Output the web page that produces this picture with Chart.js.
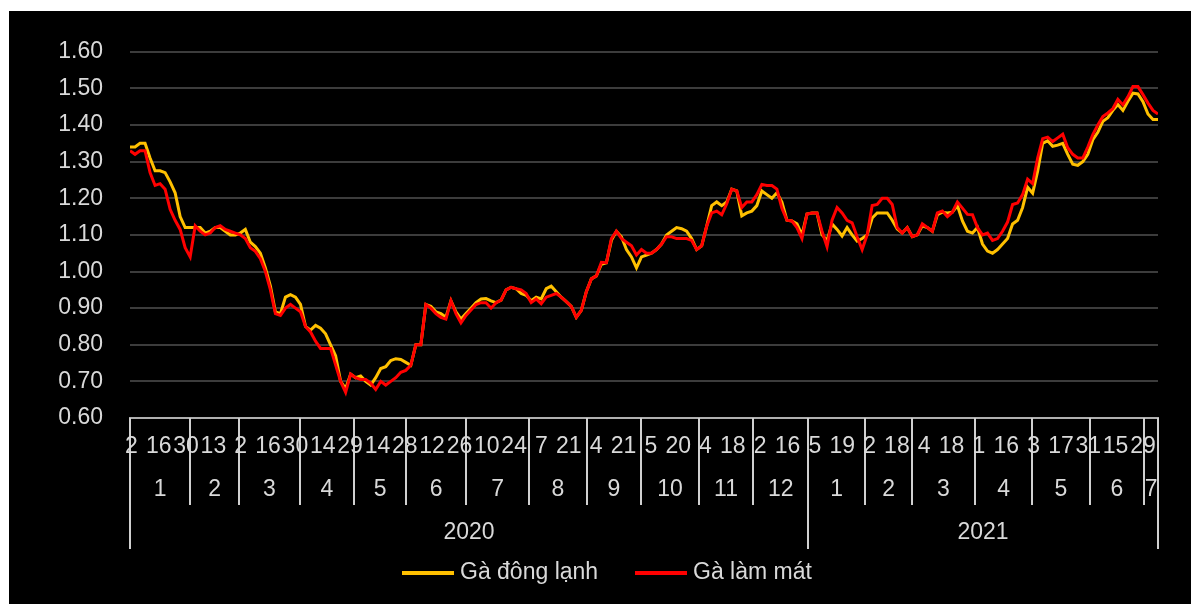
<!DOCTYPE html>
<html>
<head>
<meta charset="utf-8">
<script src="https://cdn.jsdelivr.net/npm/chart.js@4.4.1/dist/chart.umd.min.js"></script>
<style>
  html, body { margin: 0; padding: 0; background: #ffffff; }
  #wrap { position: absolute; left: 9px; top: 11px; width: 1182px; height: 593px; background: #000000; }
</style>
</head>
<body>
<div id="wrap"><canvas id="grafico" width="1182" height="593"></canvas></div>
<script>
// số phiên trong từng tháng (01/2020 -> 07/2021)
const monthNames = ['1','2','3','4','5','6','7','8','9','10','11','12','1','2','3','4','5','6','7'];
const monthObs = [22,18,22,20,19,22,23,21,20,21,20,20,21,17,23,21,21,20,5];
const years = ['2020','2021'];
const yearMonths = [12, 7];

// nhãn ngày, cứ 10 phiên một nhãn
const labelEvery = 10;
const dayLabels = ['2','16','30','13','2','16','30','14','29','14','28','12','26','10','24','7','21','4','21','5','20',
                   '4','18','2','16','5','19','2','18','4','18','1','16','3','17','31','15','29'];

// giá trị lấy mẫu trải đều từ phiên đầu đến phiên cuối
const frozen = [
  1.34,1.34,1.35,1.35,1.31,1.275,1.275,1.27,1.245,1.215,
  1.15,1.12,1.12,1.12,1.12,1.105,1.11,1.12,1.12,1.11,
  1.10,1.10,1.105,1.115,1.08,1.068,1.05,1.01,0.96,0.89,
  0.885,0.93,0.937,0.93,0.91,0.85,0.84,0.853,0.845,0.83,
  0.80,0.77,0.70,0.68,0.72,0.71,0.715,0.70,0.69,0.71,
  0.735,0.74,0.757,0.762,0.76,0.752,0.744,0.80,0.80,0.91,
  0.905,0.89,0.885,0.875,0.92,0.89,0.87,0.885,0.90,0.915,
  0.925,0.926,0.92,0.915,0.922,0.95,0.957,0.953,0.94,0.935,
  0.92,0.93,0.925,0.953,0.96,0.945,0.93,0.918,0.905,0.875,
  0.894,0.945,0.98,0.988,1.02,1.024,1.085,1.11,1.095,1.06,
  1.04,1.01,1.04,1.045,1.05,1.06,1.075,1.10,1.11,1.12,
  1.117,1.11,1.09,1.06,1.07,1.124,1.18,1.19,1.18,1.19,
  1.225,1.22,1.152,1.16,1.165,1.18,1.22,1.21,1.20,1.215,
  1.19,1.14,1.138,1.13,1.10,1.157,1.16,1.16,1.10,1.085,
  1.13,1.115,1.097,1.12,1.10,1.083,1.09,1.10,1.146,1.16,
  1.16,1.16,1.14,1.116,1.105,1.12,1.095,1.10,1.125,1.12,
  1.11,1.155,1.162,1.16,1.162,1.18,1.138,1.11,1.105,1.12,
  1.075,1.056,1.05,1.06,1.075,1.09,1.13,1.14,1.175,1.23,
  1.214,1.274,1.35,1.357,1.342,1.345,1.35,1.32,1.293,1.29,
  1.30,1.32,1.36,1.38,1.41,1.42,1.44,1.456,1.44,1.465,
  1.487,1.485,1.464,1.43,1.415,1.415
];

const chilled = [
  1.33,1.32,1.33,1.33,1.27,1.235,1.24,1.225,1.17,1.14,
  1.115,1.065,1.04,1.125,1.11,1.10,1.105,1.12,1.125,1.115,
  1.11,1.105,1.10,1.09,1.065,1.055,1.035,1.00,0.95,0.885,
  0.88,0.90,0.91,0.90,0.89,0.85,0.835,0.81,0.79,0.79,
  0.79,0.745,0.70,0.67,0.72,0.71,0.705,0.705,0.695,0.678,
  0.70,0.69,0.70,0.71,0.725,0.73,0.744,0.80,0.80,0.91,
  0.90,0.885,0.875,0.87,0.92,0.885,0.86,0.88,0.895,0.91,
  0.915,0.915,0.90,0.915,0.922,0.95,0.957,0.953,0.95,0.94,
  0.915,0.925,0.912,0.93,0.935,0.94,0.93,0.918,0.905,0.875,
  0.894,0.945,0.98,0.988,1.025,1.024,1.09,1.11,1.09,1.08,
  1.07,1.045,1.06,1.05,1.05,1.06,1.075,1.095,1.095,1.09,
  1.09,1.09,1.085,1.06,1.07,1.124,1.16,1.165,1.155,1.185,
  1.225,1.22,1.175,1.19,1.19,1.21,1.238,1.235,1.235,1.225,
  1.173,1.14,1.138,1.12,1.09,1.157,1.16,1.16,1.11,1.068,
  1.14,1.175,1.16,1.14,1.133,1.095,1.06,1.10,1.18,1.183,
  1.20,1.20,1.183,1.12,1.105,1.12,1.095,1.10,1.13,1.12,
  1.11,1.16,1.165,1.15,1.162,1.19,1.173,1.156,1.155,1.12,
  1.10,1.105,1.085,1.09,1.11,1.135,1.183,1.187,1.21,1.252,
  1.24,1.31,1.363,1.367,1.355,1.365,1.375,1.338,1.32,1.31,
  1.31,1.34,1.374,1.40,1.423,1.433,1.445,1.47,1.455,1.477,
  1.505,1.505,1.483,1.46,1.44,1.43
];

const seriesNames = ['Gà đông lạnh', 'Gà làm mát'];
const seriesColors = ['#ffc000', '#ff0000'];

const totalObs = monthObs.reduce((a, b) => a + b, 0);
const textColor = '#d9d9d9';
const fontFamily = '"Liberation Sans", Arial, sans-serif';
const font = '23px ' + fontFamily;

const toPoints = arr => arr.map((v, i) => ({ x: i * totalObs / (arr.length - 1), y: v }));

// trục ngang nhiều tầng: ngày / tháng / năm + chú thích
const multiAxis = {
  id: 'multiAxis',
  afterDraw(chart) {
    const ctx = chart.ctx;
    const xs = chart.scales.x;
    const base = chart.chartArea.bottom;

    const bounds = [0];
    monthObs.forEach(n => bounds.push(bounds[bounds.length - 1] + n));
    const yearBounds = [0];
    yearMonths.forEach(n => yearBounds.push(yearBounds[yearBounds.length - 1] + n));

    ctx.save();
    ctx.strokeStyle = '#d0d0d0';
    ctx.lineWidth = 2;
    bounds.forEach((b, i) => {
      const px = Math.round(xs.getPixelForValue(b));
      const len = yearBounds.includes(i) ? 131 : 87;
      ctx.beginPath();
      ctx.moveTo(px, base);
      ctx.lineTo(px, base + len);
      ctx.stroke();
    });

    ctx.fillStyle = textColor;
    ctx.font = font;
    ctx.textAlign = 'center';
    ctx.textBaseline = 'middle';

    dayLabels.forEach((d, i) => {
      ctx.fillText(d, xs.getPixelForValue(i * labelEvery + 0.5), base + 29);
    });
    monthNames.forEach((m, i) => {
      const mid = (xs.getPixelForValue(bounds[i]) + xs.getPixelForValue(bounds[i + 1])) / 2;
      ctx.fillText(m, mid, base + 72);
    });
    years.forEach((y, i) => {
      const a = xs.getPixelForValue(bounds[yearBounds[i]]);
      const b = xs.getPixelForValue(bounds[yearBounds[i + 1]]);
      ctx.fillText(y, (a + b) / 2, base + 115);
    });

    // chú thích
    const legendY = base + 155;
    const legendX = [393, 626];
    ctx.textAlign = 'left';
    seriesNames.forEach((name, i) => {
      ctx.strokeStyle = seriesColors[i];
      ctx.lineWidth = 4;
      ctx.beginPath();
      ctx.moveTo(legendX[i], legendY);
      ctx.lineTo(legendX[i] + 52, legendY);
      ctx.stroke();
      ctx.fillText(name, legendX[i] + 58, legendY);
    });
    ctx.restore();
  }
};

new Chart(document.getElementById('grafico'), {
  type: 'line',
  data: {
    datasets: [
      {
        label: seriesNames[0],
        data: toPoints(frozen),
        borderColor: seriesColors[0],
        borderWidth: 3,
        pointRadius: 0,
        fill: false,
        order: 2
      },
      {
        label: seriesNames[1],
        data: toPoints(chilled),
        borderColor: seriesColors[1],
        borderWidth: 3,
        pointRadius: 0,
        fill: false,
        order: 1
      }
    ]
  },
  options: {
    responsive: false,
    animation: false,
    layout: { padding: { top: 39, right: 33, left: 0, bottom: 0 } },
    plugins: {
      legend: { display: false },
      tooltip: { enabled: false }
    },
    scales: {
      x: {
        type: 'linear',
        min: 0,
        max: totalObs,
        grid: { display: false },
        border: { display: true, color: '#b0b0b0', width: 2 },
        ticks: { display: false },
        afterFit(scale) { scale.height = 186; }
      },
      y: {
        min: 0.6,
        max: 1.6,
        grid: { color: '#3c3c3c', lineWidth: 2, drawTicks: false },
        border: { display: false },
        ticks: {
          stepSize: 0.1,
          padding: 27,
          color: textColor,
          font: { family: fontFamily, size: 23 },
          callback: v => v.toFixed(2)
        },
        afterFit(scale) { scale.width = 121; }
      }
    }
  },
  plugins: [multiAxis]
});
</script>
</body>
</html>
